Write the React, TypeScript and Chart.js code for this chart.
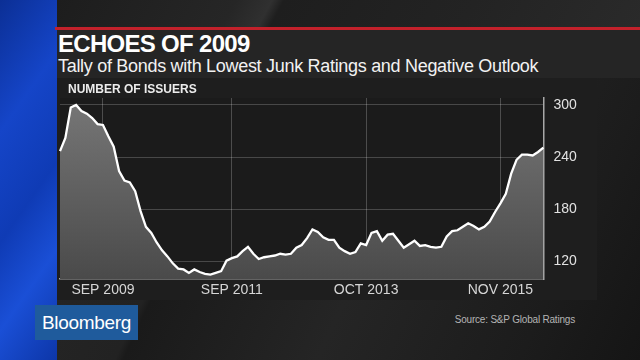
import React, { useEffect, useRef } from "react";
import { Chart, registerables } from "chart.js";

Chart.register(...registerables);

const MONTHS = ["JAN", "FEB", "MAR", "APR", "MAY", "JUN", "JUL", "AUG", "SEP", "OCT", "NOV", "DEC"];
const START_YEAR = 2009;

// Monthly tally, Jan 2009 .. Jul 2016
const issuers = [
  247, 262, 297, 300, 293, 290, 285, 278, 277, 264, 252, 224, 213, 211, 201, 178, 160, 153, 142, 133, 126, 118, 112,
  111, 107, 111, 108, 106, 105, 107, 109, 121, 124, 126, 132, 137, 129, 123, 125, 126, 127, 129, 128, 129, 136, 139,
  147, 157, 154, 148, 145, 145, 136, 132, 129, 131, 141, 139, 153, 155, 144, 151, 152, 144, 136, 140, 144, 138,
  139, 137, 136, 137, 149, 155, 156, 160, 164, 161, 157, 160, 166, 177, 187, 198, 221, 237, 243, 243, 242, 246, 251,
];

const categories = issuers.map((_, i) => `${MONTHS[i % 12]} ${START_YEAR + Math.floor(i / 12)}`);
const xTickLabels = ["SEP 2009", "SEP 2011", "OCT 2013", "NOV 2015"];
const yTickValues = [120, 180, 240, 300];

const FONT = "'Liberation Sans', Arial, Helvetica, sans-serif";

function ChartCanvas() {
  const ref = useRef<HTMLCanvasElement | null>(null);
  useEffect(() => {
    if (!ref.current) return;
    const plotBg = {
      id: "plotBg",
      beforeDraw(chart: any) {
        const { ctx, chartArea } = chart;
        if (!chartArea) return;
        ctx.save();
        ctx.fillStyle = "#1b1b1b";
        ctx.fillRect(chartArea.left, chartArea.top, chartArea.right - chartArea.left, chartArea.bottom - chartArea.top);
        ctx.restore();
      },
    };
    const chart = new Chart(ref.current, {
      type: "line",
      data: {
        labels: categories,
        datasets: [
          {
            data: issuers,
            borderColor: "#ffffff",
            borderWidth: 2.3,
            pointRadius: 0,
            tension: 0,
            fill: "origin",
            backgroundColor: (ctx: any) => {
              const area = ctx.chart.chartArea;
              if (!area) return "#5a5a5a";
              const g = ctx.chart.ctx.createLinearGradient(0, area.top, 0, area.bottom);
              g.addColorStop(0, "#777777");
              g.addColorStop(1, "#4a4a4a");
              return g;
            },
          },
        ],
      },
      options: {
        responsive: false,
        animation: false,
        devicePixelRatio: 1,
        layout: { padding: { left: 3, top: 20, right: 0, bottom: 0 } },
        plugins: { legend: { display: false }, tooltip: { enabled: false }, title: { display: false } },
        scales: {
          x: {
            type: "category",
            offset: false,
            border: { display: true, color: "#a8a8a8", width: 1.5 },
            grid: {
              drawTicks: false,
              color: (c: any) =>
                xTickLabels.includes(categories[c.index] ?? "") ? "rgba(255,255,255,0.22)" : "rgba(0,0,0,0)",
              lineWidth: 1,
            },
            ticks: {
              autoSkip: false,
              maxRotation: 0,
              minRotation: 0,
              padding: 3,
              color: "#d6d6d6",
              font: { family: FONT, size: 14 },
              callback: (_v: any, i: number) => (xTickLabels.includes(categories[i]) ? categories[i] : ""),
            },
            afterFit: (s: any) => {
              s.height = 21;
            },
          },
          y: {
            position: "right",
            min: 100,
            max: 308,
            border: { display: true, color: "#a8a8a8", width: 1.5 },
            grid: { drawTicks: false, color: "rgba(255,255,255,0.2)", lineWidth: 1 },
            afterBuildTicks: (s: any) => {
              s.ticks = yTickValues.map((v) => ({ value: v }));
            },
            ticks: {
              padding: 10,
              color: "#e2e2e2",
              font: { family: FONT, size: 14 },
            },
            afterFit: (s: any) => {
              s.width = 53.6;
            },
          },
        },
      },
      plugins: [plotBg],
    } as any);
    return () => chart.destroy();
  }, []);
  return <canvas ref={ref} width={540} height={222} style={{ display: "block" }} />;
}

export default function App() {
  return (
    <div
      style={{
        position: "fixed",
        left: 0,
        top: 0,
        width: 640,
        height: 360,
        overflow: "hidden",
        fontFamily: FONT,
        background: "linear-gradient(115deg, #2a2a2a 0%, #222 35%, #1a1a1a 36%, #252525 60%, #1c1c1c 85%, #151515 100%)",
      }}
    >
      {/* top diagonal band */}
      <div
        style={{
          position: "absolute",
          left: 57,
          top: 0,
          width: 583,
          height: 28,
          background: "linear-gradient(118deg, #1d1d1d 0%, #262626 30%, #303030 36%, #1e1e1e 38%, #232323 70%, #2a2a2a 100%)",
        }}
      />
      {/* blue strip */}
      <div
        style={{
          position: "absolute",
          left: 0,
          top: 0,
          width: 57,
          height: 360,
          background: "linear-gradient(125deg, #0b2f95 0%, #1545c8 30%, #0f3bb5 55%, #1a4fd6 75%, #0d36a8 100%)",
        }}
      />
      {/* red rule */}
      <div style={{ position: "absolute", left: 55, top: 27, width: 585, height: 3, background: "#c3212b" }} />
      {/* title band */}
      <div style={{ position: "absolute", left: 57, top: 30, width: 583, height: 48, background: "#252525" }} />
      <div
        style={{
          position: "absolute",
          left: 58,
          top: 32,
          fontSize: 24,
          lineHeight: "24px",
          fontWeight: "bold",
          color: "#ffffff",
          letterSpacing: "-0.7px",
          whiteSpace: "nowrap",
        }}
      >
        ECHOES OF 2009
      </div>
      <div
        style={{
          position: "absolute",
          left: 58,
          top: 57,
          fontSize: 18,
          lineHeight: "18px",
          color: "#f2f2f2",
          letterSpacing: "-0.3px",
          whiteSpace: "nowrap",
        }}
      >
        Tally of Bonds with Lowest Junk Ratings and Negative Outlook
      </div>
      {/* chart panel */}
      <div
        style={{
          position: "absolute",
          left: 57,
          top: 78,
          width: 540,
          height: 222,
          background: "#1e1e1e",
        }}
      >
        <ChartCanvas />
        <div
          style={{
            position: "absolute",
            left: 11,
            top: 5,
            fontSize: 12,
            lineHeight: "12px",
            fontWeight: "bold",
            color: "#ececec",
            whiteSpace: "nowrap",
          }}
        >
          NUMBER OF ISSUERS
        </div>
      </div>
      {/* Bloomberg logo */}
      <div
        style={{
          position: "absolute",
          left: 35,
          top: 305,
          width: 103,
          height: 35,
          background: "#1f5b9c",
          color: "#ffffff",
          fontSize: 19,
          lineHeight: "35px",
          textAlign: "center",
          letterSpacing: "-0.3px",
        }}
      >
        Bloomberg
      </div>
      <div
        style={{
          position: "absolute",
          right: 65,
          top: 314,
          fontSize: 10,
          lineHeight: "12px",
          color: "#b4b4b4",
          letterSpacing: "-0.2px",
          whiteSpace: "nowrap",
        }}
      >
        Source: S&amp;P Global Ratings
      </div>
    </div>
  );
}
